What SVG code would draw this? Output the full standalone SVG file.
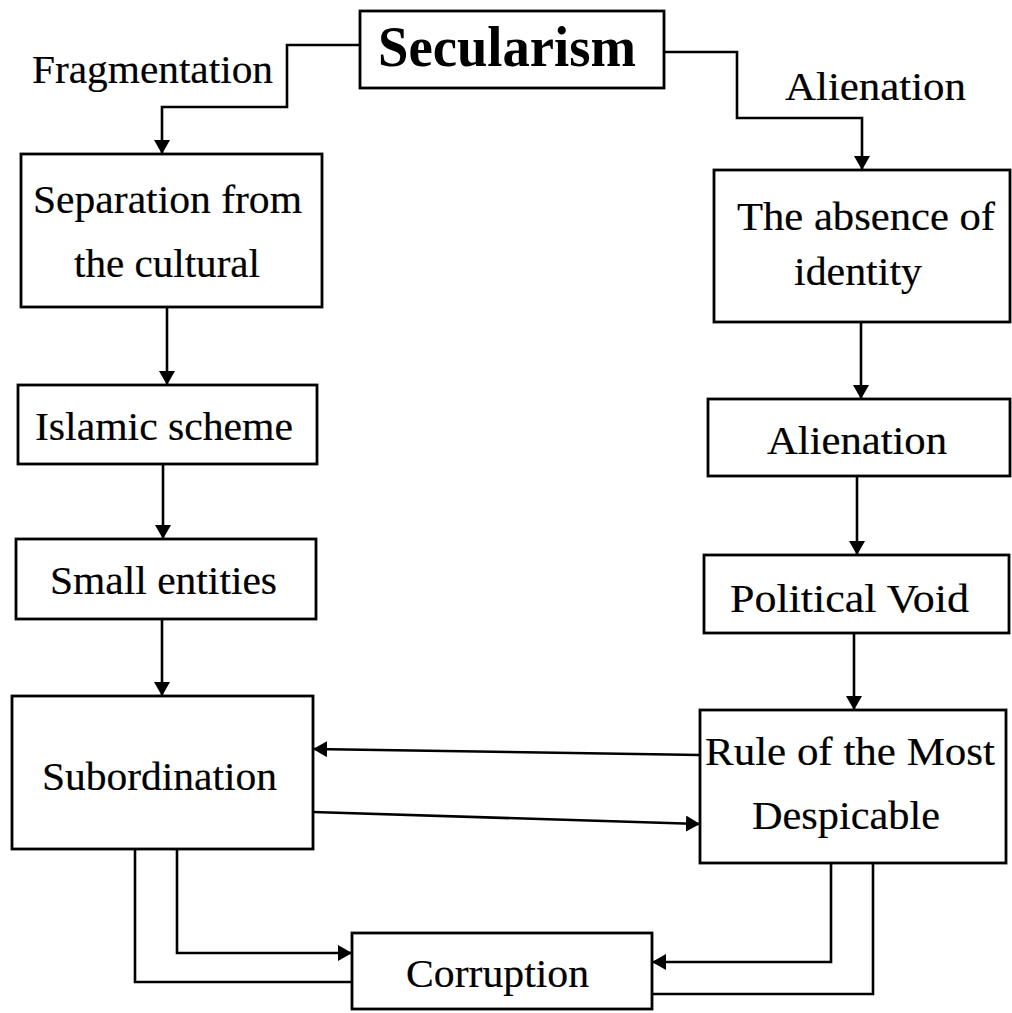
<svg xmlns="http://www.w3.org/2000/svg" width="1012" height="1013" viewBox="0 0 1012 1013">
<style>
.box{fill:#fff;stroke:#000;stroke-width:2.8}
.t{font-family:"Liberation Serif","Times New Roman",serif;font-size:40px;fill:#000;stroke:#000;stroke-width:0.2}
.b{font-family:"Liberation Serif","Times New Roman",serif;font-size:57px;font-weight:bold;fill:#000}
.c{fill:none;stroke:#000;stroke-width:2.6}
</style>
<defs>
<marker id="ah" markerUnits="userSpaceOnUse" markerWidth="14" markerHeight="16" refX="14" refY="8" orient="auto">
<path d="M0,0 L14,8 L0,16 z" fill="#000"/>
</marker>
</defs>
<rect width="1012" height="1013" fill="#fff"/>
<g id="connectors">
<path class="c" d="M360,45 H287 V107 H162 V154" marker-end="url(#ah)"/>
<path class="c" d="M664,52 H737 V118 H862 V170" marker-end="url(#ah)"/>
<path class="c" d="M167,307 V385" marker-end="url(#ah)"/>
<path class="c" d="M163,464 V539" marker-end="url(#ah)"/>
<path class="c" d="M162,619 V696" marker-end="url(#ah)"/>
<path class="c" d="M861,322 V399" marker-end="url(#ah)"/>
<path class="c" d="M857,476 V555" marker-end="url(#ah)"/>
<path class="c" d="M854,633 V710" marker-end="url(#ah)"/>
<path class="c" d="M700,755 L313,749" marker-end="url(#ah)"/>
<path class="c" d="M313,812 L700,824" marker-end="url(#ah)"/>
<path class="c" d="M177,850 V953 H352" marker-end="url(#ah)"/>
<path class="c" d="M135,849 V982 H352"/>
<path class="c" d="M831,862 V962 H652" marker-end="url(#ah)"/>
<path class="c" d="M873,864 V994 H652"/>
</g>
<g id="label-fragmentation"><text class="t" x="32" y="83" textLength="241" lengthAdjust="spacingAndGlyphs">Fragmentation</text></g>
<g id="label-alienation"><text class="t" x="785" y="100" textLength="181" lengthAdjust="spacingAndGlyphs">Alienation</text></g>
<g id="secularism">
<rect class="box" x="360" y="11" width="304" height="77"/>
<text class="b" x="378" y="66" textLength="258" lengthAdjust="spacingAndGlyphs">Secularism</text>
</g>
<g id="separation">
<rect class="box" x="21" y="154" width="301" height="153"/>
<text class="t" x="33" y="213" textLength="269" lengthAdjust="spacingAndGlyphs">Separation from</text>
<text class="t" x="74" y="277" textLength="186" lengthAdjust="spacingAndGlyphs">the cultural</text>
</g>
<g id="absence">
<rect class="box" x="714" y="170" width="296" height="152"/>
<text class="t" x="737" y="230" textLength="258" lengthAdjust="spacingAndGlyphs">The absence of</text>
<text class="t" x="794" y="285" textLength="128" lengthAdjust="spacingAndGlyphs">identity</text>
</g>
<g id="islamic">
<rect class="box" x="18" y="385" width="299" height="79"/>
<text class="t" x="35" y="440" textLength="258" lengthAdjust="spacingAndGlyphs">Islamic scheme</text>
</g>
<g id="small">
<rect class="box" x="16" y="539" width="300" height="80"/>
<text class="t" x="50" y="594" textLength="227" lengthAdjust="spacingAndGlyphs">Small entities</text>
</g>
<g id="alienation">
<rect class="box" x="708" y="399" width="302" height="77"/>
<text class="t" x="767" y="454" textLength="180" lengthAdjust="spacingAndGlyphs">Alienation</text>
</g>
<g id="political">
<rect class="box" x="704" y="555" width="305" height="78"/>
<text class="t" x="730" y="612" textLength="239" lengthAdjust="spacingAndGlyphs">Political Void</text>
</g>
<g id="subordination">
<rect class="box" x="12" y="696" width="301" height="153"/>
<text class="t" x="42" y="790" textLength="235" lengthAdjust="spacingAndGlyphs">Subordination</text>
</g>
<g id="rule">
<rect class="box" x="700" y="710" width="306" height="153"/>
<text class="t" x="705" y="765" textLength="290" lengthAdjust="spacingAndGlyphs">Rule of the Most</text>
<text class="t" x="752" y="829" textLength="188" lengthAdjust="spacingAndGlyphs">Despicable</text>
</g>
<g id="corruption">
<rect class="box" x="352" y="933" width="300" height="76"/>
<text class="t" x="406" y="987" textLength="183" lengthAdjust="spacingAndGlyphs">Corruption</text>
</g>
</svg>
